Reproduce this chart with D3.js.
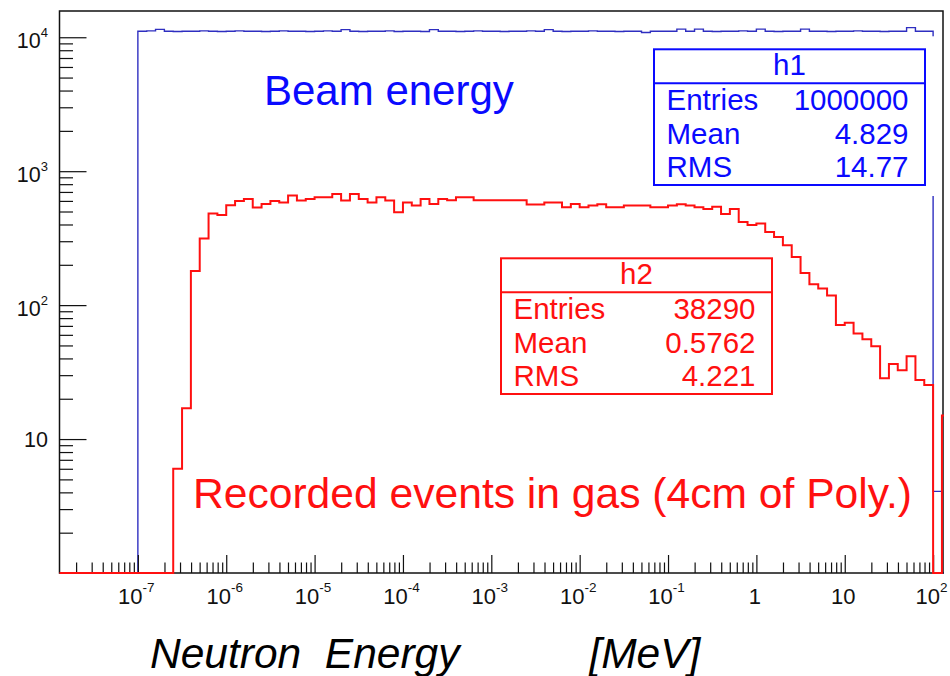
<!DOCTYPE html>
<html>
<head>
<meta charset="utf-8">
<script src="https://cdn.jsdelivr.net/npm/d3@7"></script>
<style>
  html, body { margin: 0; padding: 0; background: #fff; }
  svg { display: block; font-family: "Liberation Sans", Arial, sans-serif; }
</style>
</head>
<body>
<svg id="chart" width="950" height="676"></svg>
<script>
// Histogram binning: 0.1-decade bins starting at 10^-7 MeV
const binStartExp = -7;
const binWidthExp = 0.1;

// h1: beam energy spectrum (counts per bin)
const beamCounts = [
  11100, 11150, 11450, 11100, 11050, 11100, 11100, 11150, 11100, 11050,
  11100, 11150, 11100, 11100, 11050, 11100, 11150, 11100, 11100, 11050,
  11100, 11150, 11100, 11400, 11100, 11050, 11100, 11100, 11150, 11050,
  11100, 11100, 11050, 11400, 11100, 11100, 11050, 11100, 11150, 11100,
  11100, 11050, 11100, 11100, 11150, 11100, 11400, 11100, 11050, 11100,
  11100, 11150, 11100, 11100, 11050, 11100, 11100, 10850, 11100, 11100,
  11100, 11500, 11100, 11500, 11100, 11050, 11100, 11100, 11150, 11100,
  11500, 11100, 11050, 11100, 11100, 11500, 11100, 11100, 11050, 11100,
  11100, 11150, 11100, 11100, 11050, 11100, 11100, 11800, 11100, 11100,
  4.07, 0
];

// h2: events recorded in the gas (counts per bin)
const gasCounts = [
  0, 0, 0, 0, 6, 17, 180, 315, 483, 470,
  557, 600, 621, 536, 570, 600, 584, 659, 605, 620,
  640, 640, 675, 605, 675, 620, 583, 640, 605, 494,
  583, 554, 620, 569, 620, 607, 640, 640, 607, 607,
  607, 607, 607, 607, 565, 565, 583, 583, 539, 569,
  539, 554, 567, 539, 539, 554, 554, 554, 539, 539,
  554, 567, 554, 539, 523, 542, 480, 523, 418, 396,
  407, 352, 323, 280, 229, 174, 143, 133, 118, 71,
  74, 61.5, 55.5, 49.4, 28.4, 36.3, 32.7, 41.6, 27.6, 25.3,
  0, 15
];

// Axis ticks and labels
const xTickValues = [1e-7, 1e-6, 1e-5, 1e-4, 1e-3, 1e-2, 1e-1, 1, 10, 100];
const xTickLabels = ["10^-7", "10^-6", "10^-5", "10^-4", "10^-3", "10^-2", "10^-1", "1", "10", "10^2"];
const yTickValues = [10, 100, 1000, 10000];
const yTickLabels = ["10", "10^2", "10^3", "10^4"];

// Statistics boxes
const beamStats = [["Entries", "1000000"], ["Mean", "4.829"], ["RMS", "14.77"]];
const gasStats = [["Entries", "38290"], ["Mean", "0.5762"], ["RMS", "4.221"]];

const beamLabel = "Beam energy";
const gasLabel = "Recorded events in gas (4cm of Poly.)";
const xTitle = "Neutron  Energy           [MeV]";

// ---------------------------------------------------------------------------
const svg = d3.select("#chart");
const frame = { left: 59.5, right: 943, top: 11, bottom: 573 };

const x = d3.scaleLog()
  .domain([Math.pow(10, -7.887), Math.pow(10, 2.112)])
  .range([frame.left, frame.right]);
const y = d3.scaleLog()
  .domain([1, Math.pow(10, 4.196)])
  .range([frame.bottom, frame.top]);

svg.append("defs").append("clipPath").attr("id", "plotClip")
  .append("rect")
  .attr("x", frame.left - 1).attr("y", frame.top)
  .attr("width", frame.right - frame.left + 2)
  .attr("height", frame.bottom - frame.top + 1.5);

// Step outline of a histogram; empty bins sit on the lower edge of the frame
function histPoints(counts) {
  const first = Math.pow(10, binStartExp);
  const pts = [[x.domain()[0], 0], [first, 0]];
  counts.forEach((c, i) => {
    const lo = Math.pow(10, binStartExp + i * binWidthExp);
    const hi = Math.pow(10, binStartExp + (i + 1) * binWidthExp);
    pts.push([lo, c], [hi, c]);
  });
  pts.push([Math.pow(10, binStartExp + counts.length * binWidthExp), 0]);
  return pts;
}
const histLine = d3.line()
  .x(d => x(d[0]))
  .y(d => d[1] > 0 ? y(d[1]) : frame.bottom);

// Beam histogram
svg.append("path")
  .attr("clip-path", "url(#plotClip)")
  .attr("d", histLine(histPoints(beamCounts)))
  .attr("fill", "none")
  .attr("stroke", "#2e2ec0")
  .attr("stroke-width", 1.4);

// Frame
svg.append("rect")
  .attr("x", frame.left).attr("y", frame.top)
  .attr("width", frame.right - frame.left)
  .attr("height", frame.bottom - frame.top)
  .attr("fill", "none").attr("stroke", "#111").attr("stroke-width", 1.5);

// Minor tick positions (2..9 within each decade)
function minorTicks(scale) {
  const [d0, d1] = scale.domain();
  const out = [];
  for (let e = Math.floor(Math.log10(d0)); e <= Math.ceil(Math.log10(d1)); e++) {
    for (let m = 2; m <= 9; m++) {
      const v = m * Math.pow(10, e);
      if (v >= d0 && v <= d1) out.push(v);
    }
  }
  return out;
}

function styleAxis(g) {
  g.select(".domain").remove();
  g.selectAll(".tick line").attr("stroke", "#111").attr("stroke-width", 1.2);
  g.selectAll(".tick text").remove();
}

svg.append("g").attr("transform", `translate(0,${frame.bottom})`)
  .call(d3.axisBottom(x).tickValues(xTickValues).tickSize(-18).tickFormat(""))
  .call(styleAxis);
svg.append("g").attr("transform", `translate(0,${frame.bottom})`)
  .call(d3.axisBottom(x).tickValues(minorTicks(x)).tickSize(-10.5).tickFormat(""))
  .call(styleAxis);
svg.append("g").attr("transform", `translate(${frame.left},0)`)
  .call(d3.axisLeft(y).tickValues(yTickValues).tickSize(-27).tickFormat(""))
  .call(styleAxis);
svg.append("g").attr("transform", `translate(${frame.left},0)`)
  .call(d3.axisLeft(y).tickValues(minorTicks(y)).tickSize(-13.5).tickFormat(""))
  .call(styleAxis);

// Recorded-events histogram
svg.append("path")
  .attr("clip-path", "url(#plotClip)")
  .attr("d", histLine(histPoints(gasCounts)))
  .attr("fill", "none")
  .attr("stroke", "#ff1010")
  .attr("stroke-width", 2);

// Tick labels written as 10^n with a raised exponent
function powerLabel(sel, label, supSize, supRise) {
  const parts = label.split("^");
  sel.append("tspan").text(parts[0]);
  if (parts.length > 1) {
    sel.append("tspan").attr("font-size", supSize).attr("dy", -supRise).text(parts[1]);
  }
}

xTickValues.forEach((v, i) => {
  const t = svg.append("text")
    .attr("x", x(v) - 1.5).attr("y", 603.5)
    .attr("text-anchor", "middle")
    .attr("font-size", 22).attr("fill", "#111");
  powerLabel(t, xTickLabels[i], 13.5, 11.5);
});

yTickValues.forEach((v, i) => {
  const hasSup = yTickLabels[i].includes("^");
  const t = svg.append("text")
    .attr("x", 48).attr("y", y(v) + (hasSup ? 11 : 7.5))
    .attr("text-anchor", "end")
    .attr("font-size", 21.5).attr("fill", "#111");
  powerLabel(t, yTickLabels[i], 13, 11);
});

// Statistics box
function statsBox(left, top, title, rows, color, pad) {
  const w = 271, h = 135.7, head = 34;
  const g = svg.append("g");
  if (pad) {
    g.append("rect")
      .attr("x", left - pad[0]).attr("y", top - pad[1])
      .attr("width", w + pad[0] + pad[2]).attr("height", h + pad[1] + pad[3])
      .attr("fill", "#fff");
  }
  g.append("rect")
    .attr("x", left).attr("y", top).attr("width", w).attr("height", h)
    .attr("fill", "#fff").attr("stroke", color).attr("stroke-width", 2);
  g.append("line")
    .attr("x1", left).attr("x2", left + w)
    .attr("y1", top + head).attr("y2", top + head)
    .attr("stroke", color).attr("stroke-width", 2);
  g.append("text")
    .attr("x", left + w / 2).attr("y", top + 25.7)
    .attr("text-anchor", "middle").attr("font-size", 29.5).attr("fill", color)
    .text(title);
  rows.forEach((r, i) => {
    const by = top + 60.7 + i * 33.7;
    g.append("text").attr("x", left + 12.5).attr("y", by)
      .attr("font-size", 29.5).attr("fill", color).text(r[0]);
    g.append("text").attr("x", left + w - 16.5).attr("y", by)
      .attr("text-anchor", "end")
      .attr("font-size", 29.5).attr("fill", color).text(r[1]);
  });
}

statsBox(654, 49.3, "h1", beamStats, "#0a0aff", [10, 13, 12, 11]);
statsBox(501, 258.3, "h2", gasStats, "#ff1010", null);

// Annotations
svg.append("text")
  .attr("x", 264).attr("y", 104.5)
  .attr("font-size", 42).attr("fill", "#0a0aff")
  .text(beamLabel);
svg.append("text")
  .attr("x", 193).attr("y", 508)
  .attr("font-size", 42.6).attr("fill", "#ff1010")
  .text(gasLabel);

// Axis title
svg.append("text")
  .attr("x", 150).attr("y", 668.3)
  .attr("font-size", 42.5).attr("font-style", "italic").attr("fill", "#000")
  .style("white-space", "pre")
  .text(xTitle);
</script>
</body>
</html>
